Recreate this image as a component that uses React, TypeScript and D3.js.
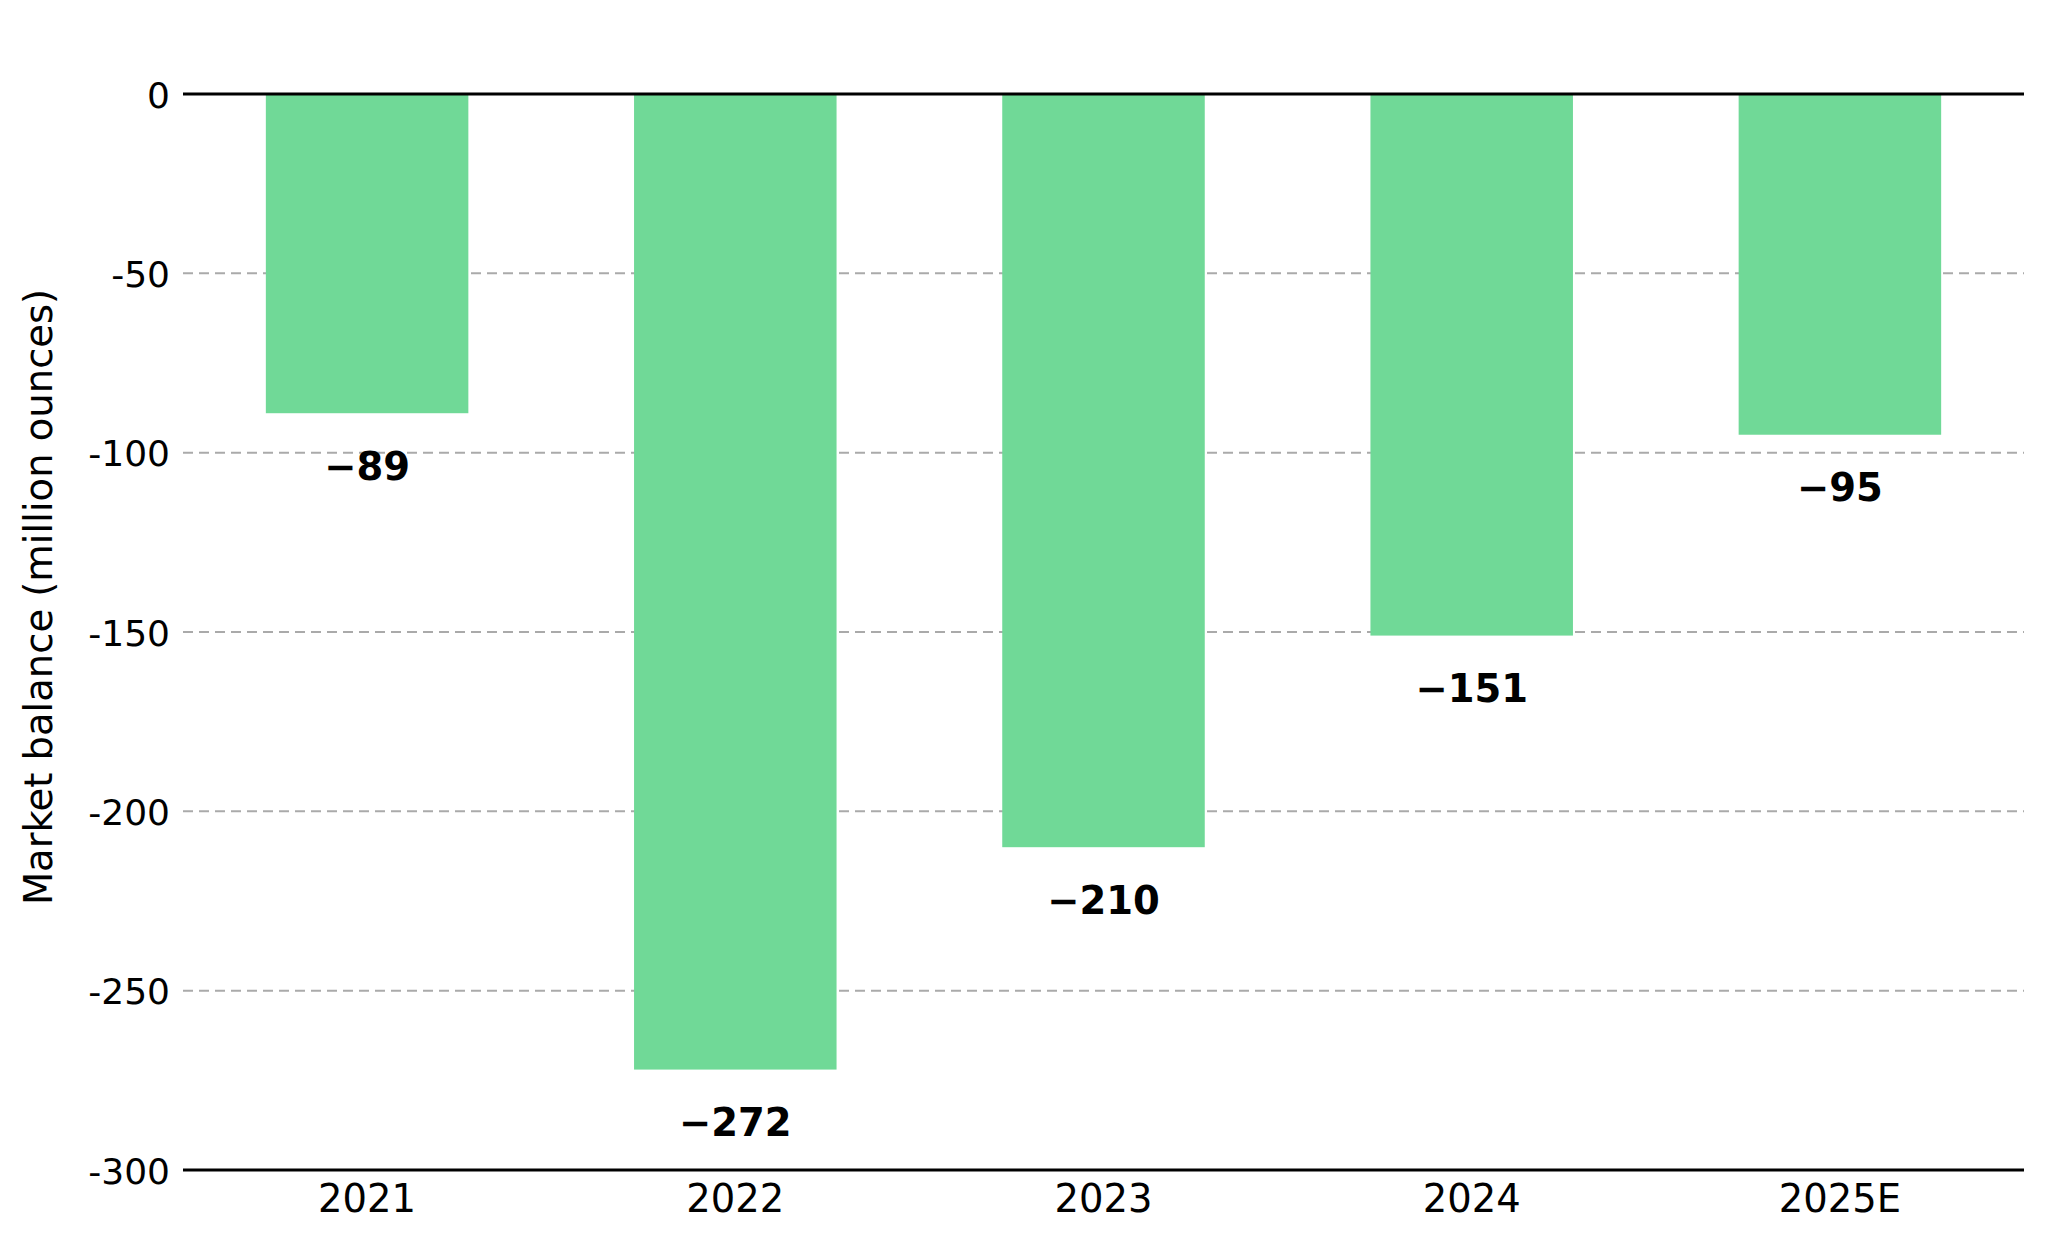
import React, { useEffect, useRef } from 'react';
import * as d3 from 'd3';

const years = ['2021', '2022', '2023', '2024', '2025E'];
const balance = [-89, -272, -210, -151, -95];
const yTicks = [0, -50, -100, -150, -200, -250, -300];
const yLabel = 'Market balance (million ounces)';

const W = 2048;
const H = 1242;
const FONT = '"DejaVu Sans", sans-serif';
const FS = 38.5;

export default function App() {
  const svgRef = useRef<SVGSVGElement>(null);

  useEffect(() => {
    if (!svgRef.current) return;
    const svg = d3.select(svgRef.current);
    svg.selectAll('*').remove();

    const left = 183;
    const right = 2024;

    const x = d3.scaleBand<string>()
      .domain(years)
      .range([left, right])
      .paddingInner(0.45)
      .paddingOuter(0.225);

    const y = d3.scaleLinear()
      .domain([-300, 0])
      .range([1170, 94]);

    // dashed grid (0 and -300 get solid lines instead)
    svg.append('g')
      .selectAll('line')
      .data(yTicks.filter(t => t !== 0 && t !== -300))
      .join('line')
      .attr('x1', left)
      .attr('x2', right)
      .attr('y1', d => y(d))
      .attr('y2', d => y(d))
      .attr('stroke', '#aaaaaa')
      .attr('stroke-width', 2)
      .attr('stroke-dasharray', '10,6');

    // bars
    svg.append('g')
      .selectAll('rect')
      .data(balance)
      .join('rect')
      .attr('x', (_, i) => x(years[i])!)
      .attr('width', x.bandwidth())
      .attr('y', y(0))
      .attr('height', d => y(d) - y(0))
      .attr('fill', '#70d997');

    // zero line and bottom spine
    svg.append('line')
      .attr('x1', left).attr('x2', right)
      .attr('y1', y(0)).attr('y2', y(0))
      .attr('stroke', '#000').attr('stroke-width', 3);
    svg.append('line')
      .attr('x1', left).attr('x2', right)
      .attr('y1', y(-300)).attr('y2', y(-300))
      .attr('stroke', '#000').attr('stroke-width', 3);

    // value labels
    svg.append('g')
      .selectAll('text')
      .data(balance)
      .join('text')
      .attr('x', (_, i) => x(years[i])! + x.bandwidth() / 2)
      .attr('y', d => y(d) + 53)
      .attr('text-anchor', 'middle')
      .attr('dominant-baseline', 'central')
      .attr('font-family', FONT)
      .attr('font-size', FS)
      .attr('font-weight', 'bold')
      .attr('fill', '#000')
      .text(d => '\u2212' + Math.abs(d));

    // y tick labels
    svg.append('g')
      .selectAll('text')
      .data(yTicks)
      .join('text')
      .attr('x', left - 13)
      .attr('y', d => y(d) + 1)
      .attr('text-anchor', 'end')
      .attr('dominant-baseline', 'central')
      .attr('font-family', FONT)
      .attr('font-size', 36)
      .attr('fill', '#000')
      .text(d => String(d));

    // x tick labels
    svg.append('g')
      .selectAll('text')
      .data(years)
      .join('text')
      .attr('x', d => x(d)! + x.bandwidth() / 2)
      .attr('y', 1212)
      .attr('text-anchor', 'middle')
      .attr('font-family', FONT)
      .attr('font-size', FS)
      .attr('fill', '#000')
      .text(d => d);

    // y axis title
    svg.append('text')
      .attr('transform', `translate(38,597) rotate(-90)`)
      .attr('text-anchor', 'middle')
      .attr('dominant-baseline', 'central')
      .attr('font-family', FONT)
      .attr('font-size', FS)
      .attr('fill', '#000')
      .text(yLabel);
  }, []);

  return (
    <div style={{ position: 'absolute', top: 0, left: 0 }}>
      <svg ref={svgRef} width={W} height={H} style={{ display: 'block', background: '#fff' }} />
    </div>
  );
}
